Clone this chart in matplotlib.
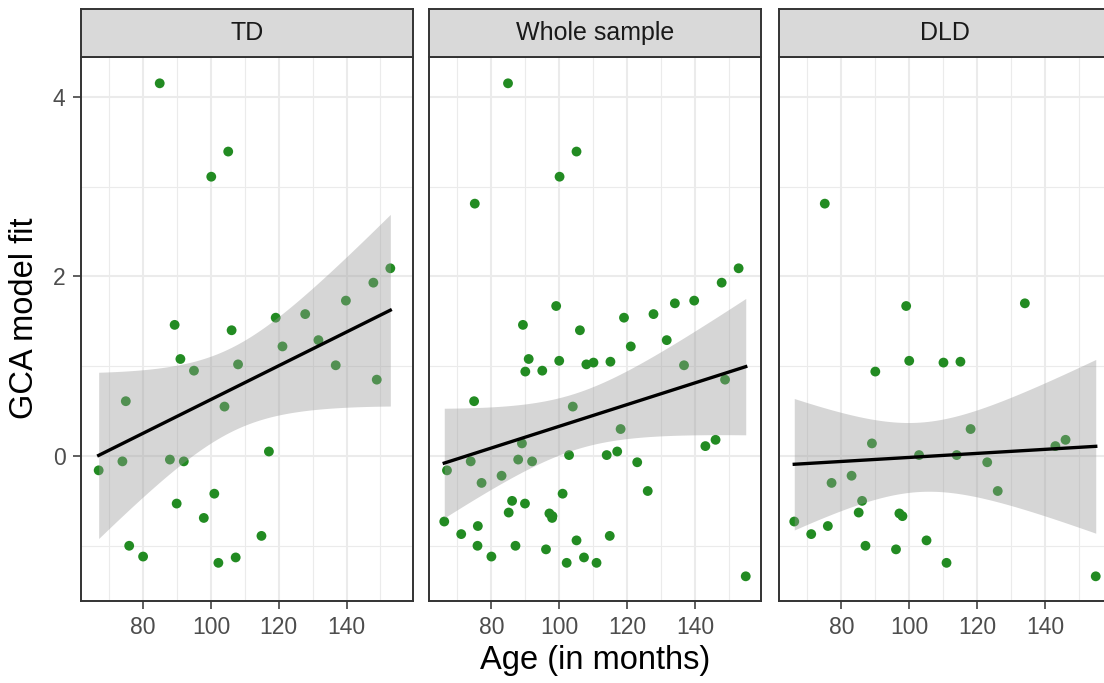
import math
import numpy as np
import matplotlib
matplotlib.use("Agg")
import matplotlib.pyplot as plt

plt.rcParams['font.family'] = ['Liberation Sans', 'DejaVu Sans']

# age (months) and GCA model fit
td_age = [84.9, 105.1, 100.1, 89.3, 106.1, 152.9, 147.9, 139.8, 127.8, 119.1,
          131.7, 121.1, 91.0, 95.0, 108.0, 136.8, 148.9, 74.9, 104.0, 117.1,
          66.9, 73.9, 87.9, 92.0, 101.0, 89.9, 97.9, 114.9, 75.9, 80.0,
          102.2, 107.3]
td_fit = [4.15, 3.39, 3.11, 1.46, 1.40, 2.09, 1.93, 1.73, 1.58, 1.54,
          1.29, 1.22, 1.08, 0.95, 1.02, 1.01, 0.85, 0.61, 0.55, 0.05,
          -0.16, -0.06, -0.04, -0.06, -0.42, -0.53, -0.69, -0.89, -1.00, -1.12,
          -1.19, -1.13]

dld_age = [75.1, 99.1, 134.1, 100.0, 110.1, 115.1, 90.0, 118.1, 146.1, 143.1,
           89.0, 102.9, 114.0, 123.0, 77.1, 83.0, 126.1, 86.1, 85.1, 66.1,
           97.1, 98.0, 71.1, 76.0, 87.1, 105.1, 96.1, 111.0, 155.0]
dld_fit = [2.81, 1.67, 1.70, 1.06, 1.04, 1.05, 0.94, 0.30, 0.18, 0.11,
           0.14, 0.01, 0.01, -0.07, -0.30, -0.22, -0.39, -0.50, -0.63, -0.73,
           -0.64, -0.67, -0.87, -0.78, -1.00, -0.94, -1.04, -1.19, -1.34]

panels = ["TD", "Whole sample", "DLD"]
x_ticks = [80, 100, 120, 140]
y_ticks = [0, 2, 4]


def t_crit(df, p=0.975):
    xs = np.linspace(0, 12, 40001)
    c = math.gamma((df + 1) / 2) / (math.sqrt(df * math.pi) * math.gamma(df / 2))
    pdf = c * (1 + xs ** 2 / df) ** (-(df + 1) / 2)
    cdf = 0.5 + np.concatenate([[0], np.cumsum((pdf[1:] + pdf[:-1]) / 2 * np.diff(xs))])
    return np.interp(p, cdf, xs)


def lm_band(x, y):
    # lm fit with 95% confidence band, like geom_smooth(method = "lm")
    x = np.asarray(x)
    y = np.asarray(y)
    n = len(x)
    b1, b0 = np.polyfit(x, y, 1)
    resid = y - (b0 + b1 * x)
    s = np.sqrt(np.sum(resid ** 2) / (n - 2))
    sxx = np.sum((x - x.mean()) ** 2)
    xg = np.linspace(x.min(), x.max(), 80)
    yg = b0 + b1 * xg
    se = s * np.sqrt(1 / n + (xg - x.mean()) ** 2 / sxx)
    t = t_crit(n - 2)
    return xg, yg, yg - t * se, yg + t * se


data = {
    "TD": (td_age, td_fit),
    "Whole sample": (td_age + dld_age, td_fit + dld_fit),
    "DLD": (dld_age, dld_fit),
}

W, H = 1104, 683
fig = plt.figure(figsize=(W / 100, H / 100), dpi=100)

lefts = [80.7, 429, 779]
pw = 332
ptop, pbot = 57, 601
strip_top = 8.5
border = '#333333'

for name, left in zip(panels, lefts):
    ax = fig.add_axes([left / W, 1 - pbot / H, pw / W, (pbot - ptop) / H])
    x, y = data[name]
    ax.scatter(x, y, s=50, color='#228B22', edgecolors='none', zorder=2)
    xg, yg, lo, hi = lm_band(x, y)
    ax.fill_between(xg, lo, hi, color='#999999', alpha=0.4, lw=0, zorder=3)
    ax.plot(xg, yg, color='black', lw=2.4, zorder=4)

    ax.set_xlim(61.6, 159.5)
    ax.set_ylim(-1.615, 4.443)
    ax.set_xticks(x_ticks)
    ax.set_xticks([70, 90, 110, 130, 150], minor=True)
    ax.set_yticks(y_ticks)
    ax.set_yticks([-1, 1, 3], minor=True)
    ax.grid(True, which='major', color='#EBEBEB', lw=1.5, zorder=0)
    ax.grid(True, which='minor', color='#EBEBEB', lw=0.8, zorder=0)
    ax.set_axisbelow(True)
    ax.tick_params(which='major', length=6, width=1.1, color=border,
                   labelsize=16.5, labelcolor='#4D4D4D', pad=5)
    ax.tick_params(which='minor', length=0)
    if left != lefts[0]:
        ax.tick_params(axis='y', which='major', length=0, labelleft=False)
    for sp in ax.spines.values():
        sp.set_color(border)
        sp.set_linewidth(1.4)

    sax = fig.add_axes([left / W, 1 - ptop / H, pw / W, (ptop - strip_top) / H])
    sax.set_facecolor('#D9D9D9')
    sax.set_xticks([])
    sax.set_yticks([])
    for sp in sax.spines.values():
        sp.set_color(border)
        sp.set_linewidth(1.4)
    sax.text(0.5, 0.5, name, ha='center', va='center', fontsize=18,
             color='#1A1A1A', transform=sax.transAxes)

fig.text(25 / W, 1 - 318 / H, 'GCA model fit', rotation=90, ha='center',
         va='center', fontsize=23.5)
fig.text(595 / W, 1 - 660 / H, 'Age (in months)', ha='center', va='center',
         fontsize=23.5)

fig.savefig('out.png', dpi=100)
